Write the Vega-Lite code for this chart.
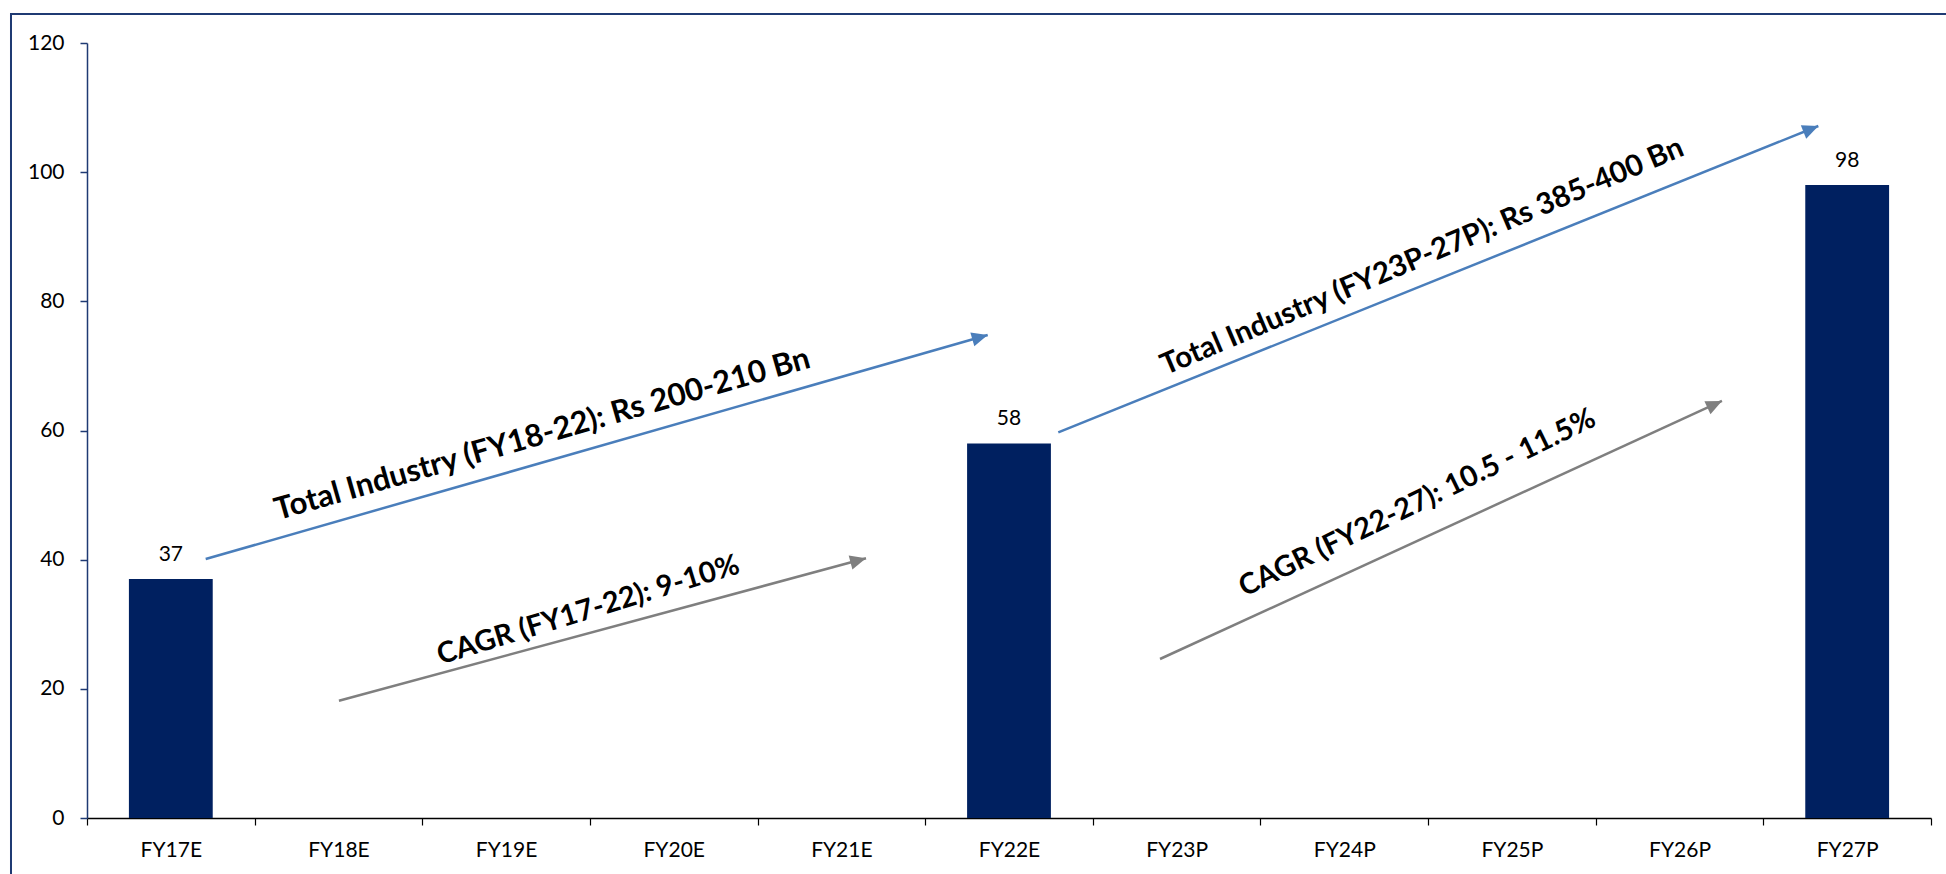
{
  "$schema": "https://vega.github.io/schema/vega-lite/v6.json",
  "autosize": {"type": "none"},
  "padding": {"left": 87, "top": 43, "right": 15, "bottom": 56},
  "width": 1844,
  "height": 775,
  "config": {"view": {"stroke": null}, "font": "Lato"},
  "datasets": {
    "bars": [
      {"year": "FY17E", "value": 37},
      {"year": "FY18E", "value": null},
      {"year": "FY19E", "value": null},
      {"year": "FY20E", "value": null},
      {"year": "FY21E", "value": null},
      {"year": "FY22E", "value": 58},
      {"year": "FY23P", "value": null},
      {"year": "FY24P", "value": null},
      {"year": "FY25P", "value": null},
      {"year": "FY26P", "value": null},
      {"year": "FY27P", "value": 98}
    ],
    "frame": [{"left": -0.4534, "right": 12, "bottom": -10, "top": 124.49}],
    "arrows": [
      {"id": "a1", "kind": "blue", "xi": 0.708, "value": 40.1},
      {"id": "a1", "kind": "blue", "xi": 5.373, "value": 74.79},
      {"id": "a2", "kind": "gray", "xi": 1.503, "value": 18.16},
      {"id": "a2", "kind": "gray", "xi": 4.647, "value": 40.21},
      {"id": "a3", "kind": "blue", "xi": 5.794, "value": 59.72},
      {"id": "a3", "kind": "blue", "xi": 10.328, "value": 107.15},
      {"id": "a4", "kind": "gray", "xi": 6.401, "value": 24.62},
      {"id": "a4", "kind": "gray", "xi": 9.753, "value": 64.57}
    ],
    "heads": [
      {"id": "a1", "xi": 5.373, "value": 74.79},
      {"id": "a2", "xi": 4.647, "value": 40.21},
      {"id": "a3", "xi": 10.328, "value": 107.15},
      {"id": "a4", "xi": 9.753, "value": 64.57}
    ],
    "notes": [
      {"id": "n1", "label": "Total Industry (FY18-22): Rs 200-210 Bn", "xi": 2.717, "value": 59.3},
      {"id": "n2", "label": "CAGR (FY17-22): 9-10%", "xi": 2.99, "value": 32.2},
      {"id": "n3", "label": "Total Industry (FY23P-27P): Rs 385-400 Bn", "xi": 7.965, "value": 86.9},
      {"id": "n4", "label": "CAGR (FY22-27): 10.5 - 11.5%", "xi": 7.935, "value": 48.8}
    ]
  },
  "layer": [
    {
      "data": {"name": "bars"},
      "encoding": {
        "x": {
          "field": "year", "type": "nominal", "sort": null,
          "scale": {"type": "band", "domain": ["FY17E","FY18E","FY19E","FY20E","FY21E","FY22E","FY23P","FY24P","FY25P","FY26P","FY27P"], "paddingInner": 0, "paddingOuter": 0},
          "axis": {"title": null, "orient": "bottom", "tickBand": "extent", "tickSize": 7, "tickColor": "#000000", "tickWidth": 1.2, "domainColor": "#000000", "domainWidth": 1.5, "labelFont": "Lato", "labelFontSize": 21, "labelColor": "#000000", "labelPadding": 14, "labelAngle": 0, "grid": false}
        },
        "y": {
          "field": "value", "type": "quantitative",
          "scale": {"domain": [0, 120], "nice": false, "zero": true},
          "axis": {"title": null, "orient": "left", "values": [0, 20, 40, 60, 80, 100, 120], "tickSize": 7, "tickColor": "#1F3A73", "tickWidth": 1.5, "domainColor": "#1F3A73", "domainWidth": 1.5, "labelFont": "Lato", "labelFontSize": 21, "labelColor": "#000000", "labelPadding": 16, "grid": false}
        }
      },
      "layer": [
        {"mark": {"type": "bar", "color": "#002060", "width": {"band": 0.5}}},
        {"mark": {"type": "text", "dy": -18, "baseline": "alphabetic", "align": "center", "fontSize": 21, "font": "Lato", "color": "#000000"},
         "encoding": {"text": {"field": "value", "type": "quantitative"}}}
      ]
    },
    {
      "encoding": {
        "x": {"field": "xi", "type": "quantitative", "scale": {"domain": [0, 11], "nice": false, "zero": false}, "axis": null},
        "y": {
          "field": "value", "type": "quantitative",
          "scale": {"domain": [0, 120], "nice": false, "zero": true},
          "axis": {"title": null, "orient": "left", "values": [0, 20, 40, 60, 80, 100, 120], "tickSize": 7, "tickColor": "#1F3A73", "tickWidth": 1.5, "domainColor": "#1F3A73", "domainWidth": 1.5, "labelFont": "Lato", "labelFontSize": 21, "labelColor": "#000000", "labelPadding": 16, "grid": false}
        }
      },
      "layer": [
        {
          "data": {"name": "frame"},
          "mark": {"type": "rect", "fill": null, "fillOpacity": 0, "stroke": "#1F3A73", "strokeWidth": 2, "clip": false},
          "encoding": {
            "x": {"field": "left", "type": "quantitative", "scale": {"domain": [0, 11], "nice": false, "zero": false}, "axis": null},
            "x2": {"field": "right"},
            "y": {"field": "top", "type": "quantitative", "scale": {"domain": [0, 120], "nice": false, "zero": true}, "axis": {"title": null, "orient": "left", "values": [0, 20, 40, 60, 80, 100, 120], "tickSize": 7, "tickColor": "#1F3A73", "tickWidth": 1.5, "domainColor": "#1F3A73", "domainWidth": 1.5, "labelFont": "Lato", "labelFontSize": 21, "labelColor": "#000000", "labelPadding": 16, "grid": false}},
            "y2": {"field": "bottom"}
          }
        },
        {
          "data": {"name": "arrows"},
          "mark": {"type": "line", "strokeWidth": 2.5, "clip": false},
          "encoding": {
            "detail": {"field": "id"},
            "color": {"field": "kind", "type": "nominal", "scale": {"domain": ["blue", "gray"], "range": ["#4A7EBB", "#7F7F7F"]}, "legend": null}
          }
        },
        {"data": {"name": "heads"}, "transform": [{"filter": "datum.id == 'a1'"}],
         "mark": {"type": "point", "shape": "M0,0 L-1,-0.45 L-1,0.45 Z", "size": 1024, "filled": true, "opacity": 1, "color": "#4A7EBB", "angle": 344}},
        {"data": {"name": "heads"}, "transform": [{"filter": "datum.id == 'a2'"}],
         "mark": {"type": "point", "shape": "M0,0 L-1,-0.45 L-1,0.45 Z", "size": 1024, "filled": true, "opacity": 1, "color": "#7F7F7F", "angle": 345}},
        {"data": {"name": "heads"}, "transform": [{"filter": "datum.id == 'a3'"}],
         "mark": {"type": "point", "shape": "M0,0 L-1,-0.45 L-1,0.45 Z", "size": 1024, "filled": true, "opacity": 1, "color": "#4A7EBB", "angle": 338}},
        {"data": {"name": "heads"}, "transform": [{"filter": "datum.id == 'a4'"}],
         "mark": {"type": "point", "shape": "M0,0 L-1,-0.45 L-1,0.45 Z", "size": 1024, "filled": true, "opacity": 1, "color": "#7F7F7F", "angle": 335}},
        {"data": {"name": "notes"}, "transform": [{"filter": "datum.id == 'n1'"}],
         "mark": {"type": "text", "font": "Lato", "fontWeight": "bold", "fontSize": 31, "angle": 344, "align": "center", "baseline": "middle", "color": "#000000"},
         "encoding": {"text": {"field": "label"}}},
        {"data": {"name": "notes"}, "transform": [{"filter": "datum.id == 'n2'"}],
         "mark": {"type": "text", "font": "Lato", "fontWeight": "bold", "fontSize": 29, "angle": 343, "align": "center", "baseline": "middle", "color": "#000000"},
         "encoding": {"text": {"field": "label"}}},
        {"data": {"name": "notes"}, "transform": [{"filter": "datum.id == 'n3'"}],
         "mark": {"type": "text", "font": "Lato", "fontWeight": "bold", "fontSize": 29.5, "angle": 337, "align": "center", "baseline": "middle", "color": "#000000"},
         "encoding": {"text": {"field": "label"}}},
        {"data": {"name": "notes"}, "transform": [{"filter": "datum.id == 'n4'"}],
         "mark": {"type": "text", "font": "Lato", "fontWeight": "bold", "fontSize": 29, "angle": 334, "align": "center", "baseline": "middle", "color": "#000000"},
         "encoding": {"text": {"field": "label"}}}
      ]
    }
  ],
  "resolve": {"scale": {"x": "independent"}}
}
